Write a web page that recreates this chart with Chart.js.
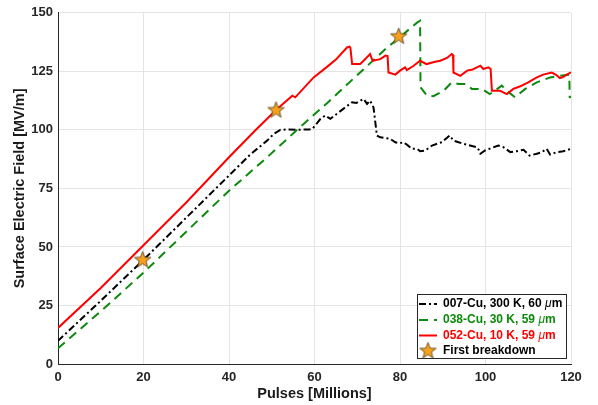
<!DOCTYPE html>
<html>
<head>
<meta charset="utf-8">
<script src="https://cdn.jsdelivr.net/npm/chart.js@4.4.1/dist/chart.umd.min.js"></script>
<style>
    html, body { margin: 0; padding: 0; background: #fff; }
</style>
</head>
<body>
<canvas id="chart" width="598" height="405"></canvas>
<script>
// tick labels
var xTicks = [0, 20, 40, 60, 80, 100, 120];
var yTicks = [0, 25, 50, 75, 100, 125, 150];

var seriesNames = ['007-Cu, 300 K, 60 ', '038-Cu, 30 K, 59 ', '052-Cu, 10 K, 59 ', 'First breakdown'];

// 007-Cu, 300 K
var blackX = [0, 10, 20, 30, 40, 45, 48.9, 50.5, 52, 54, 56, 58.7, 59.5, 61.4, 62.5, 63.7, 65.7, 67.2, 68.8, 69.8,
    71.5, 72.3, 73, 73.8, 74.6, 75.4, 77.7, 78.9, 80, 80.8, 81.6, 82.8, 84, 84.7, 85.9, 87.5, 89, 89.8, 91, 91.6,
    92.5, 93.7, 94.9, 96.4, 98, 98.4, 98.8, 99.9, 101.5, 103, 104.2, 105.8, 107.3, 108.9, 110.3, 112, 113.2,
    114.3, 115.1, 116.7, 118.2, 120];
var blackY = [9.9, 27, 44.5, 62.5, 80.5, 89.5, 95.4, 98.3, 100, 100.2, 100, 100.2, 100.4, 104.7, 106.1, 104.7, 107.5, 109.6, 111.8, 111.5,
    113.2, 111.1, 112.5, 109.6, 97.6, 96.8, 96.2, 94.7, 94.3, 94.7, 93.7, 91.9, 91.9, 90.9, 91.2, 93.3, 94.3, 94.7, 96.6, 97.6,
    95.4, 94.7, 94, 93.3, 92.6, 91.5, 89.8, 91.2, 92.3, 93.3, 92.6, 90.5, 90.9, 91.5, 89, 89.8, 90.5,
    91.9, 89.5, 90.5, 90.9, 91.9];

// 038-Cu, 30 K
var greenX = [0, 10, 20, 30, 40, 48.5, 57, 63, 69, 76.6, 84, 84.7, 84.8, 86.3, 87.8, 90.2, 92.1, 93.7, 95.3, 96.8,
    99.2, 101, 102, 103.8, 105, 106.9, 109.3, 112, 115.1, 117.4, 119.6, 119.7, 120];
var greenY = [6.7, 22.5, 39, 56.5, 74, 87.6, 101.8, 111.5, 121.7, 134.5, 145.8, 146.6, 118.2, 114.6, 114.4, 116.7, 120.3, 119.6, 119.6, 117.5,
    117.5, 115.3, 116.5, 118.9, 116.7, 113.9, 117.5, 120.3, 122.4, 123.1, 123.5, 114, 113.9];

// 052-Cu, 10 K
var redX = [0, 10, 20, 30, 40, 46, 51, 54.8, 55.5, 59.8, 63, 65, 67.6, 68.2, 68.4, 68.8, 70.7, 72, 73, 73.6,
    75.4, 76.6, 77.1, 77.3, 78.9, 80, 81.2, 81.6, 83.2, 84.7, 86.2, 88, 89.4, 91, 92.1, 92.4, 92.5, 94.1, 95.7,
    97, 98, 98.8, 99.5, 100.7, 101.2, 101.5, 103.4, 105, 106.5, 108, 110, 112, 113.5, 115.5, 116.5, 117.4,
    118.2, 119, 120];
var redY = [15.4, 32.5, 50.7, 69, 88.3, 99.5, 108.5, 114.6, 113.9, 122.4, 127, 130, 135.2, 135.5, 135, 128.1, 128.1, 130.5, 132.4, 129.5,
    130.2, 131.7, 131.5, 124.5, 123.6, 125.3, 126.7, 125.5, 127.4, 129.5, 128.1, 129, 129.5, 130.7, 132.4, 132, 124.5, 123.1, 125.3,
    125.8, 126.7, 127.4, 126, 126.7, 126, 116.7, 116.7, 115.3, 117.5, 118.5, 120.3, 122.4, 123.6, 124.5, 123.5, 122.1,
    122.6, 123.6, 124.5];

// first breakdown stars
var starX = [19.8, 51, 79.7];
var starY = [44.5, 108.5, 140];

function pairs(xs, ys) {
    return xs.map((x, i) => ({x: x, y: ys[i]}));
}

// filled star marker
var star = document.createElement('canvas');
star.width = 19; star.height = 19;
(function () {
    var c = star.getContext('2d'), cx = 9.5, cy = 9.8;
    c.beginPath();
    for (var i = 0; i < 10; i++) {
        var r = i % 2 ? 3.6 : 8.6,
            a = -Math.PI / 2 + i * Math.PI / 5;
        c.lineTo(cx + r * Math.cos(a), cy + r * Math.sin(a));
    }
    c.closePath();
    c.fillStyle = '#f7a21c';
    c.fill();
    c.lineWidth = 0.8;
    c.strokeStyle = '#4a3a20';
    c.stroke();
})();

var FONT = '"Liberation Sans", Arial, Helvetica, sans-serif';
var AXIS = '#262626';

// boxed legend in the lower right corner
var boxLegend = {
    id: 'boxLegend',
    afterDraw(chart) {
        var ctx = chart.ctx,
            x0 = 417, y0 = 294, w = 149, h = 64,
            rows = [304, 320, 335.5, 351];
        ctx.save();
        ctx.fillStyle = '#fff';
        ctx.fillRect(x0, y0, w, h);
        ctx.strokeStyle = AXIS;
        ctx.lineWidth = 1;
        ctx.strokeRect(x0 + 0.5, y0 + 0.5, w, h);
        ctx.textBaseline = 'middle';
        chart.data.datasets.forEach((ds, i) => {
            var y = rows[i];
            if (ds.showLine === false) {
                ctx.drawImage(star, 428 - 9.5, y - 9.8);
            } else {
                ctx.beginPath();
                ctx.setLineDash(ds.borderDash || []);
                ctx.strokeStyle = ds.borderColor;
                ctx.lineWidth = ds.borderWidth;
                ctx.moveTo(419, y);
                ctx.lineTo(437, y);
                ctx.stroke();
                ctx.setLineDash([]);
            }
            var tx = 443,
                col = ds.showLine === false ? '#000' : ds.borderColor;
            ctx.fillStyle = col;
            ctx.font = 'bold 12px ' + FONT;
            ctx.fillText(ds.label, tx, y);
            if (ds.showLine !== false) {
                tx += ctx.measureText(ds.label).width;
                ctx.font = 'italic 12px ' + FONT;
                ctx.fillText('\u03bc', tx, y);
                tx += ctx.measureText('\u03bc').width;
                ctx.font = 'bold 12px ' + FONT;
                ctx.fillText('m', tx, y);
            }
        });
        ctx.restore();
    }
};

new Chart(document.getElementById('chart'), {
    type: 'scatter',
    data: {
        datasets: [{
            label: seriesNames[0],
            data: pairs(blackX, blackY),
            showLine: true,
            borderColor: '#000000',
            borderWidth: 2,
            borderDash: [7, 3, 2, 3],
            pointRadius: 0,
            order: 3
        }, {
            label: seriesNames[1],
            data: pairs(greenX, greenY),
            showLine: true,
            borderColor: '#0b8a0b',
            borderWidth: 2,
            borderDash: [9, 6],
            pointRadius: 0,
            order: 2
        }, {
            label: seriesNames[2],
            data: pairs(redX, redY),
            showLine: true,
            borderColor: '#ff0000',
            borderWidth: 2,
            pointRadius: 0,
            order: 1
        }, {
            label: seriesNames[3],
            data: pairs(starX, starY),
            showLine: false,
            pointStyle: star,
            pointRadius: 9,
            order: 0
        }]
    },
    options: {
        responsive: false,
        animation: false,
        layout: {padding: {top: 12, right: 27, left: 0, bottom: 0}},
        plugins: {
            legend: {display: false},
            tooltip: {enabled: false}
        },
        scales: {
            x: {
                type: 'linear',
                min: xTicks[0],
                max: xTicks[xTicks.length - 1],
                afterBuildTicks: (s) => { s.ticks = xTicks.map(v => ({value: v})); },
                afterFit: (s) => { s.height = 41; },
                grid: {color: '#e4e4e4', drawTicks: false},
                border: {color: AXIS, width: 1},
                ticks: {color: AXIS, padding: 6, font: {family: FONT, size: 13, weight: 'bold'}},
                title: {
                    display: true,
                    text: 'Pulses [Millions]',
                    color: '#1a1a1a',
                    padding: {top: 0, bottom: 2},
                    font: {family: FONT, size: 14.5, weight: 'bold'}
                }
            },
            y: {
                min: yTicks[0],
                max: yTicks[yTicks.length - 1],
                afterBuildTicks: (s) => { s.ticks = yTicks.map(v => ({value: v})); },
                afterFit: (s) => { s.width = 58; },
                grid: {color: '#e4e4e4', drawTicks: false},
                border: {color: AXIS, width: 1},
                ticks: {color: AXIS, padding: 5, font: {family: FONT, size: 13, weight: 'bold'}},
                title: {
                    display: true,
                    text: 'Surface Electric Field [MV/m]',
                    color: '#1a1a1a',
                    padding: {top: 11, bottom: 0},
                    font: {family: FONT, size: 14.5, weight: 'bold'}
                }
            }
        }
    },
    plugins: [boxLegend]
});
</script>
</body>
</html>
